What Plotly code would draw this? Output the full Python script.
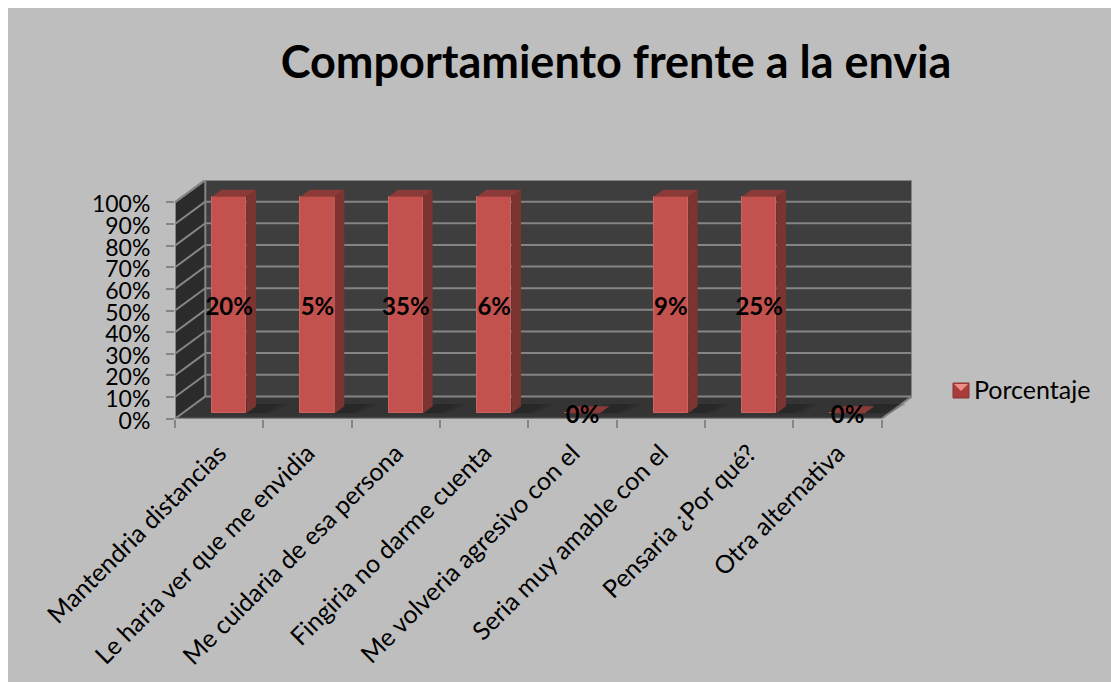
import plotly.graph_objects as go

categories = ["Mantendria distancias", "Le haria ver que me envidia", "Me cuidaria de esa persona",
              "Fingiria no darme cuenta", "Me volveria agresivo con el", "Seria muy amable con el",
              "Pensaria ¿Por qué?", "Otra alternativa"]
porcentaje = [20, 5, 35, 6, 0, 9, 25, 0]
y_ticks = [i / 10 for i in range(11)]
y_labels = [f"{i * 10}%" for i in range(11)]
series_name = "Porcentaje"
title = "Comportamiento frente a la envia"

W, H = 1111, 682
X0, X1, XB = 175.0, 881.7, 912.0     # front left, front right, back right pixels
Y0, Y100, YT = 418.7, 202.3, 180.0   # front 0, front 100, back 100 pixels
cat_px = (X1 - X0) / 8
unit_px = Y0 - Y100
DX = (XB - X1) / cat_px
DY = (Y100 - YT) / unit_px
xmax = 8 + DX
ymax = 1 + DY
n = len(categories)

BF, BB = (10 / cat_px, 5.5 / unit_px), (19.5 / cat_px, 12.5 / unit_px)
BW = 34.6 / cat_px

# every bar is a 100 % stacked share of its one-series category
shares = [1.0 if v > 0 else 0.0 for v in porcentaje]
centers = [i + 0.5 + BF[0] for i in range(n)]

GRID = "#858585"
RED = "#c3524f"

def poly(x, y, fill, line="rgba(0,0,0,0)", lw=0):
    path = "M " + " L ".join(f"{a},{b}" for a, b in zip(x, y)) + " Z"
    return dict(type="path", path=path, xref="x", yref="y", fillcolor=fill,
                line=dict(color=line, width=lw), layer="below")

def seg(x0, y0, x1, y1, color=GRID, w=2):
    return dict(type="line", x0=x0, y0=y0, x1=x1, y1=y1, xref="x", yref="y",
                line=dict(color=color, width=w), layer="below")

def px_rect(x0, y0, x1, y1, fill, line="rgba(0,0,0,0)"):
    return dict(type="rect", xref="paper", yref="paper", x0=x0 / W, x1=x1 / W, y0=1 - y1 / H, y1=1 - y0 / H,
                fillcolor=fill, line=dict(width=1, color=line), layer="above")

shapes = [
    dict(type="rect", xref="paper", yref="paper", x0=8 / W, x1=1, y0=0, y1=1 - 8 / H,
         fillcolor="#bebebe", line=dict(width=0), layer="below"),
    poly([DX, xmax, xmax, DX], [DY, DY, ymax, ymax], "#3e3e3e"),
    poly([0, DX, DX, 0], [0, DY, ymax, 1], "#2b2b2b"),
    poly([0, 8, xmax, DX], [0, 0, DY, DY], "#343434"),
]
for t in y_ticks:
    shapes.append(seg(DX, t + DY, xmax, t + DY))
    shapes.append(seg(0, t, DX, t + DY))
shapes += [seg(0, 0, 8, 0), seg(0, 0, 0, 1), seg(DX, DY, DX, ymax), seg(8, 0, xmax, DY),
           seg(DX, ymax, xmax, ymax), seg(0, 1, DX, ymax), seg(xmax, DY, xmax, ymax)]
# soft floor shadows next to each bar, two faint layers
for c in centers:
    for spread, alpha in ((0.0, 0.18), (0.08, 0.14)):
        shapes.append(poly([c + BW / 2 - 0.05 - spread, c + BW / 2 + 0.2 + spread,
                            c + BW / 2 + 0.4 + spread, c + BW / 2 + 0.12 - spread],
                           [BF[1], BF[1], BB[1] + 0.01, BB[1] + 0.01], f"rgba(15,15,15,{alpha})"))
# bevelled legend key
shapes.append(px_rect(953, 383, 969, 398, "#a83d3b", "#8a3431"))
shapes.append(dict(type="path", xref="paper", yref="paper", layer="above",
                   path=f"M {954/W},{1-384/H} L {968/W},{1-384/H} L {961/W},{1-391/H} Z",
                   fillcolor="#ee8f88", line=dict(width=0)))

fig = go.Figure()
fig.add_trace(go.Bar(x=centers, y=shares, base=[BF[1]] * n, width=BW, showlegend=False,
                     marker=dict(color=RED, line=dict(color="#cd625e", width=1)), hoverinfo="skip"))

sx, sy, tx, ty = [], [], [], []
for c, s in zip(centers, shares):
    r = c + BW / 2
    l = c - BW / 2
    dx, dy = BB[0] - BF[0], BB[1] - BF[1]
    sx += [r, r + dx, r + dx, r, r, None]
    sy += [BF[1], BB[1], BB[1] + s, BF[1] + s, BF[1], None]
    tx += [l, r, r + dx, l + dx, l, None]
    ty += [BF[1] + s, BF[1] + s, BB[1] + s, BB[1] + s, BF[1] + s, None]
fig.add_trace(go.Scatter(x=sx, y=sy, fill="toself", fillcolor="#7c3431", mode="lines",
                         line=dict(width=0), showlegend=False, hoverinfo="skip"))
fig.add_trace(go.Scatter(x=tx, y=ty, fill="toself", fillcolor="#8c3a37", mode="lines",
                         line=dict(width=0), showlegend=False, hoverinfo="skip"))
fig.add_trace(go.Scatter(x=centers, y=[BF[1] + s / 2 - 3.5 / unit_px for s in shares], mode="text",
                         text=[f"{v}%" for v in porcentaje],
                         textfont=dict(family="Lato", size=24, color="black", weight="bold"),
                         textposition="middle center", showlegend=False, hoverinfo="skip", cliponaxis=False))
fig.add_trace(go.Scatter(x=[None], y=[None], mode="markers", name=series_name,
                         marker=dict(symbol="square", size=15, color="rgba(0,0,0,0)")))

fig.update_layout(
    width=W, height=H, margin=dict(l=0, r=0, t=0, b=0, autoexpand=False), paper_bgcolor="white",
    plot_bgcolor="rgba(0,0,0,0)", shapes=shapes, bargap=0,
    title=dict(text=f"<b>{title}</b>", x=616 / W, xanchor="center", y=1 - 62 / H, yanchor="middle",
               font=dict(family="Lato", size=45, color="black")),
    xaxis=dict(domain=[X0 / W, XB / W], range=[0, xmax], showgrid=False, zeroline=False, showline=False,
               automargin=False,
               tickmode="array", tickvals=[i + 0.5 for i in range(n)], ticktext=categories, tickangle=-45,
               ticks="outside", ticklen=9, tickcolor="rgba(0,0,0,0)",
               tickfont=dict(family="Lato", size=25, color="black"),
               minor=dict(tickmode="array", tickvals=list(range(n + 1)), ticks="outside", ticklen=8,
                          tickcolor=GRID, tickwidth=2, showgrid=False)),
    yaxis=dict(domain=[1 - Y0 / H, 1 - YT / H], range=[0, ymax], showgrid=False, zeroline=False, showline=False,
               automargin=False,
               tickmode="array", tickvals=y_ticks, ticktext=y_labels, ticks="outside", ticklen=8,
               tickcolor=GRID, tickwidth=2, ticklabelstandoff=11, ticklabelshift=2,
               tickfont=dict(family="Lato", size=23, color="black")),
    legend=dict(x=934 / W, xanchor="left", y=1 - 389.5 / H, yanchor="middle", bgcolor="rgba(0,0,0,0)",
                font=dict(family="Lato", size=25, color="black"), itemwidth=30),
    showlegend=True,
)
fig.write_html("out.html", config={"displayModeBar": False},
               post_script="document.body.style.margin='0';document.body.style.overflow='hidden';")
